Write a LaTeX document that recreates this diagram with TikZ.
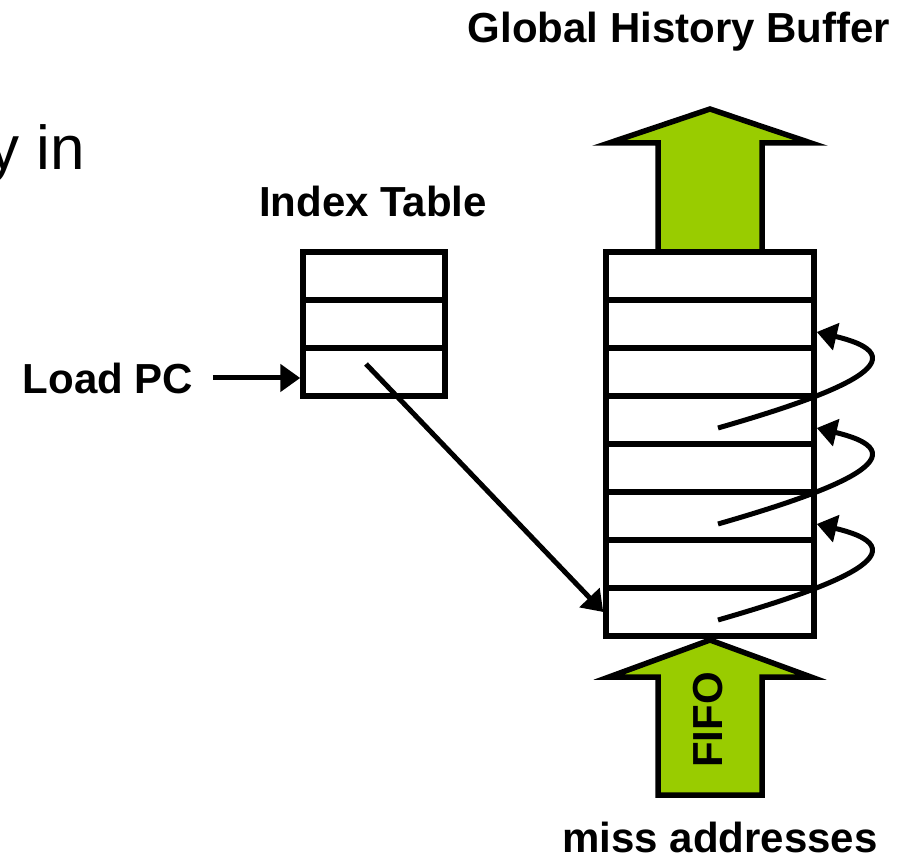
\documentclass[tikz,border=0pt]{standalone}
\usepackage{fontspec}
\setmainfont{Liberation Sans}
\usetikzlibrary{arrows.meta,calc}

\definecolor{fifogreen}{RGB}{153,204,0}

\tikzset{every picture/.style={line width=5.5pt}}
\tikzset{
  rowbox/.style={draw, line width=5.5pt, minimum height=48pt, inner sep=0pt},
  arrowline/.style={line width=5pt, -{Triangle[length=20pt,width=27pt]}},
  greenarrow/.style={draw, line width=5.5pt, fill=fifogreen, line join=miter},
  lbl/.style={inner sep=0pt, font=\fontsize{42}{50}\selectfont\bfseries}
}

\begin{document}
\begin{tikzpicture}[x=1pt,y=1pt,yscale=-1,xscale=1]
\path[use as bounding box] (0,0) rectangle (908,861);

%Shape: Up Arrow (top)
\draw [greenarrow] (658,252) -- (658,143) -- (609,143) -- (710,109) -- (811,143) -- (762,143) -- (762,252) -- cycle ;
%Shape: Up Arrow (bottom)
\draw [greenarrow] (658,795) -- (658,677) -- (609,677) -- (710,640) -- (811,677) -- (762,677) -- (762,795) -- cycle ;

%Shape: Index Table rows
\node [rowbox, minimum width=142pt] (it1) at (374,276) {};
\node [rowbox, minimum width=142pt] (it2) at (374,324) {};
\node [rowbox, minimum width=142pt] (it3) at (374,372) {};

%Shape: Global History Buffer rows
\node [rowbox, minimum width=208pt] (g1) at (710,276) {};
\node [rowbox, minimum width=208pt] (g2) at (710,324) {};
\node [rowbox, minimum width=208pt] (g3) at (710,372) {};
\node [rowbox, minimum width=208pt] (g4) at (710,420) {};
\node [rowbox, minimum width=208pt] (g5) at (710,468) {};
\node [rowbox, minimum width=208pt] (g6) at (710,516) {};
\node [rowbox, minimum width=208pt] (g7) at (710,564) {};
\node [rowbox, minimum width=208pt] (g8) at (710,612) {};

% Text Node
\node [lbl, anchor=base] (ghb) at (679,43) {Global History Buffer};
% Text Node
\node [lbl, anchor=base] (itlbl) at (373,217) {Index Table};
% Text Node
\node [lbl, anchor=base west] (loadpc) at (20,393) {Load PC};
% Text Node
\node [lbl, anchor=base] (miss) at (720,852) {miss addresses};
% Text Node
\node [lbl, rotate=90] (fifo) at (708,720) {FIFO};
% Text Node
\node [inner sep=0pt, anchor=base west, font=\fontsize{62}{70}\selectfont] (cut) at (-14,170) {y in};

%Straight Lines: Load PC into index table
\draw [arrowline] ([xshift=17pt]loadpc.east) -- (loadpc.east -| it3.west) ;
%Straight Lines: index entry to buffer entry
\coordinate (src) at (366,364);
\draw [arrowline] (src) -- (g8.west) ;

%Curves: links between buffer entries
\coordinate (t1) at (718,428);
\coordinate (t2) at (718,524);
\coordinate (t3) at (718,620);
\draw [arrowline] (t1) .. controls +(97,-28) and +(118,28) .. ($(g2.east)+(0,8)$) ;
\draw [arrowline] (t2) .. controls +(97,-28) and +(118,28) .. ($(g4.east)+(0,8)$) ;
\draw [arrowline] (t3) .. controls +(97,-28) and +(118,28) .. ($(g6.east)+(0,8)$) ;

\end{tikzpicture}
\end{document}
